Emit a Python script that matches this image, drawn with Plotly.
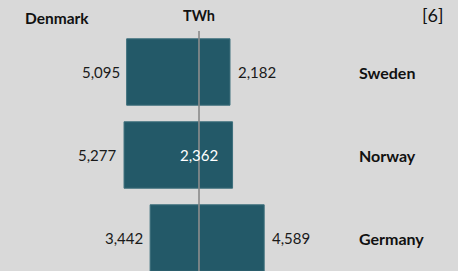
import plotly.graph_objects as go

countries = ["Sweden", "Norway", "Germany"]
denmark_side = [5095, 5277, 3442]
partner_side = [2182, 2362, 4589]
right_label_inside = [False, True, False]

BG = "#D9D9D9"
BAR = "#235968"
FONT = "Lato"

W, H = 458, 271
px_per_unit = 1 / 70.4
center_px = 199
xmin = -center_px / px_per_unit
xmax = (W - center_px) / px_per_unit

pitch = 83.0
first_center = 72.0
ytop = -first_center / pitch
ybot = (H - first_center) / pitch

ypos = list(range(len(countries)))

fig = go.Figure()
fig.add_trace(go.Bar(
    y=ypos, x=[-v for v in denmark_side], base=0, orientation="h", width=0.8,
    marker=dict(color=BAR, line=dict(color="#3d6f7c", width=1)),
    hoverinfo="skip", showlegend=False,
))
fig.add_trace(go.Bar(
    y=ypos, x=partner_side, base=0, orientation="h", width=0.8,
    marker=dict(color=BAR, line=dict(color="#3d6f7c", width=1)),
    hoverinfo="skip", showlegend=False,
))

ann = []
for i, (c, l, r, ins) in enumerate(zip(countries, denmark_side, partner_side, right_label_inside)):
    ann.append(dict(x=-l, y=i, xref="x", yref="y", text=f"{l:,}", showarrow=False,
                    xanchor="right", xshift=-5, font=dict(family=FONT, size=15, color="#1a1a1a")))
    if ins:
        ann.append(dict(x=r, y=i, xref="x", yref="y", text=f"{r:,}", showarrow=False,
                        xanchor="right", xshift=-13, font=dict(family=FONT, size=15, color="white")))
    else:
        ann.append(dict(x=r, y=i, xref="x", yref="y", text=f"{r:,}", showarrow=False,
                        xanchor="left", xshift=6, font=dict(family=FONT, size=15, color="#1a1a1a")))
    ann.append(dict(x=357 / W, y=i, xref="paper", yref="y", text=f"<b>{c}</b>", showarrow=False,
                    xanchor="left", font=dict(family=FONT, size=16, color="#111111")))

ann.append(dict(x=23 / W, y=1 - 18 / H, xref="paper", yref="paper", text="<b>Denmark</b>",
                showarrow=False, xanchor="left", yanchor="middle",
                font=dict(family=FONT, size=15.5, color="#111111")))
ann.append(dict(x=0, y=1 - 16 / H, xref="x", yref="paper", text="<b>TWh</b>",
                showarrow=False, xanchor="center", yanchor="middle",
                font=dict(family=FONT, size=14.5, color="#111111")))
ann.append(dict(x=445 / W, y=1 - 15 / H, xref="paper", yref="paper", text="[6]",
                showarrow=False, xanchor="right", yanchor="middle",
                font=dict(family=FONT, size=18, color="#111111")))

fig.add_shape(type="line", xref="x", yref="paper", x0=0, x1=0, y0=0, y1=1 - 31 / H,
              line=dict(color="#8a8a8a", width=1.6), layer="above")

fig.update_layout(
    width=W, height=H, margin=dict(l=0, r=0, t=0, b=0),
    paper_bgcolor=BG, plot_bgcolor=BG, barmode="overlay",
    xaxis=dict(range=[xmin, xmax], visible=False, fixedrange=True),
    yaxis=dict(range=[ybot, ytop], visible=False, fixedrange=True),
    annotations=ann,
)

fig.write_html(
    "out.html",
    config={"displayModeBar": False},
    post_script="document.body.style.margin='0';document.body.style.background='#D9D9D9';",
)
